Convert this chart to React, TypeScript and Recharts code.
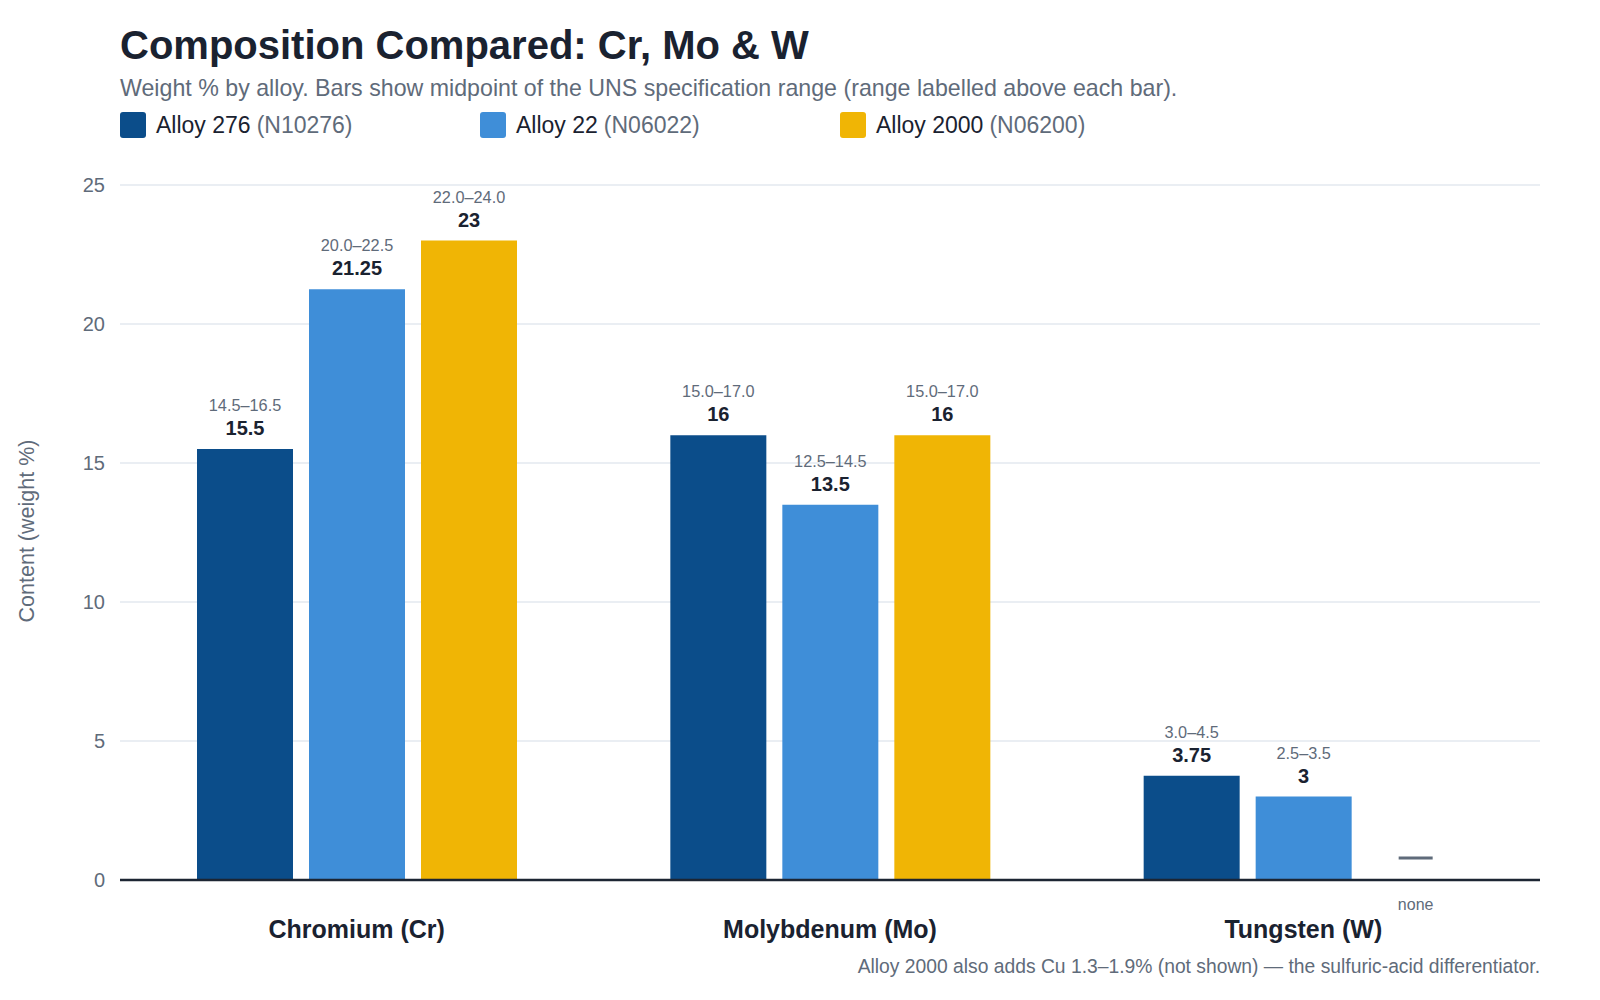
import { BarChart, Bar, XAxis, YAxis, CartesianGrid, LabelList, Rectangle } from "recharts";

const elements = ["Chromium (Cr)", "Molybdenum (Mo)", "Tungsten (W)"];
const alloy276 = [15.5, 16, 3.75];
const alloy22 = [21.25, 13.5, 3];
const alloy2000 = [23, 16, 0];
const range276 = ["14.5–16.5", "15.0–17.0", "3.0–4.5"];
const range22 = ["20.0–22.5", "12.5–14.5", "2.5–3.5"];
const range2000 = ["22.0–24.0", "15.0–17.0", ""];
const yTicks = [0, 5, 10, 15, 20, 25];

const series = [
  { key: "a276", name: "Alloy 276", uns: "(N10276)", color: "#0b4d8a", ranges: range276 },
  { key: "a22", name: "Alloy 22", uns: "(N06022)", color: "#3f8ed8", ranges: range22 },
  { key: "a2000", name: "Alloy 2000", uns: "(N06200)", color: "#f0b505", ranges: range2000 },
];

const data = elements.map((element, i) => ({
  element,
  a276: alloy276[i],
  a22: alloy22[i],
  a2000: alloy2000[i],
}));

const FONT = "'Liberation Sans', Arial, sans-serif";
const DARK = "#1a2230";
const MUTED = "#5f6b7a";

// range text + bold midpoint above each bar
function rangeLabel(ranges: string[]) {
  return (props: any) => {
    const { x, y, width, value, index } = props;
    if (!value) return null;
    const cx = Number(x) + Number(width) / 2;
    return (
      <g>
        <text x={cx} y={Number(y) - 44} textAnchor="middle" dominantBaseline="central" fontSize={16.3} fill={MUTED} fontFamily={FONT}>
          {ranges[index]}
        </text>
        <text x={cx} y={Number(y) - 21} textAnchor="middle" dominantBaseline="central" fontSize={20} fontWeight={700} fill={DARK} fontFamily={FONT}>
          {value}
        </text>
      </g>
    );
  };
}

// zero-valued bars get a short dash and a "none" note under the axis
function barShape(color: string) {
  return (props: any) => {
    const { x, y, width, height } = props;
    if (!height) {
      const cx = x + width / 2;
      return (
        <g>
          <line x1={cx - 17} x2={cx + 17} y1={y - 22} y2={y - 22} stroke={MUTED} strokeWidth={3} />
          <text x={cx} y={y + 24} textAnchor="middle" dominantBaseline="central" fontSize={16} fill={MUTED} fontFamily={FONT}>
            none
          </text>
        </g>
      );
    }
    return <Rectangle x={x} y={y} width={width} height={height} fill={color} />;
  };
}

export default function App() {
  return (
    <div style={{ position: "absolute", left: 0, top: 0, width: 1600, height: 1000, background: "#fff", fontFamily: FONT }}>
      <div style={{ position: "absolute", left: 120, top: 25, fontSize: 40, lineHeight: "40px", fontWeight: 700, color: DARK, whiteSpace: "nowrap" }}>
        Composition Compared: Cr, Mo &amp; W
      </div>
      <div style={{ position: "absolute", left: 120, top: 77, fontSize: 23.2, lineHeight: "23px", color: MUTED, whiteSpace: "nowrap" }}>
        Weight % by alloy. Bars show midpoint of the UNS specification range (range labelled above each bar).
      </div>
      {series.map((s, i) => (
        <div key={s.key} style={{ position: "absolute", left: 120 + i * 360, top: 112, height: 26, display: "flex", alignItems: "center", fontSize: 23, whiteSpace: "nowrap" }}>
          <span style={{ width: 26, height: 26, borderRadius: 3, background: s.color, marginRight: 10 }} />
          <span style={{ color: DARK }}>{s.name}</span>
          <span style={{ color: MUTED, marginLeft: 6 }}>{s.uns}</span>
        </div>
      ))}
      <div style={{ position: "absolute", left: 27, top: 531, transform: "translate(-50%, -50%) rotate(-90deg)", fontSize: 21.5, color: MUTED, whiteSpace: "nowrap" }}>
        Content (weight %)
      </div>
      <div style={{ position: "absolute", right: 60, top: 957, fontSize: 19.3, lineHeight: "19px", color: MUTED, whiteSpace: "nowrap" }}>
        Alloy 2000 also adds Cu 1.3–1.9% (not shown) — the sulfuric-acid differentiator.
      </div>
      <div style={{ position: "absolute", left: 0, top: 0 }}>
        <BarChart width={1600} height={1000} data={data} margin={{ top: 185, right: 60, bottom: 60, left: 60 }} barGap={16} barSize={96}>
          <CartesianGrid vertical={false} stroke="#e3e8ef" strokeWidth={1.5} />
          <XAxis
            dataKey="element"
            height={60}
            tickLine={false}
            tickSize={0}
            tickMargin={40}
            axisLine={{ stroke: "#1c2533", strokeWidth: 2.5 }}
            tick={{ fontSize: 25, fontWeight: 700, fill: DARK, fontFamily: FONT }}
          />
          <YAxis
            width={60}
            domain={[0, 25]}
            ticks={yTicks}
            axisLine={false}
            tickLine={false}
            tickSize={0}
            tickMargin={15}
            tick={{ fontSize: 20, fill: MUTED, fontFamily: FONT }}
          />
          {series.map((s) => (
            <Bar key={s.key} dataKey={s.key} fill={s.color} isAnimationActive={false} shape={barShape(s.color)}>
              <LabelList dataKey={s.key} content={rangeLabel(s.ranges)} />
            </Bar>
          ))}
        </BarChart>
      </div>
    </div>
  );
}
